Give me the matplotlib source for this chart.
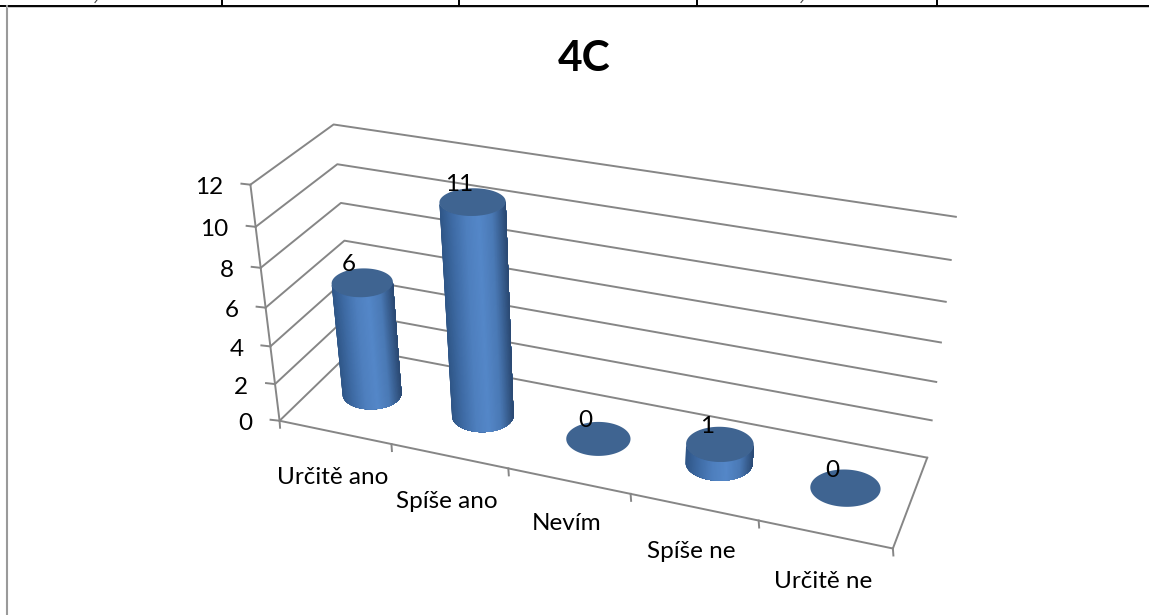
"""3D cylinder chart 4C, drawn on a flat axes through a fitted perspective projection."""
import numpy as np
import matplotlib
matplotlib.use('Agg')
import matplotlib.pyplot as plt
from matplotlib.colors import LinearSegmentedColormap

plt.rcParams['font.family'] = ['Lato', 'DejaVu Sans']

# ── Data ──────────────────────────────────────────────────────────────────────
TITLE = '4C'
CATEGORIES = ['Určitě ano', 'Spíše ano', 'Nevím', 'Spíše ne', 'Určitě ne']
VALUES = [6, 11, 0, 1, 0]
Y_TICKS = [0, 2, 4, 6, 8, 10, 12]

# ── Layout (image pixels) ─────────────────────────────────────────────────────
# box corners: (category pos, value, depth) -> pixel
BOX_3D = np.array([(0, 0, 0), (0, 12, 0), (5, 0, 0),
                   (0, 0, 1), (0, 12, 1), (5, 0, 1), (5, 12, 1)], dtype=float)
BOX_PX = np.array([(278, 420), (252, 185), (893, 549),
                   (356, 349), (332, 124), (927, 457), (956, 217)], dtype=float)
XLABEL_POS = [(333, 478), (447, 501), (567, 523), (691, 552), (823, 581)]
SEPARATORS = [222, 459, 697, 937]
CUT_OFF_MARKS = [97, 803]

GRID = '#868686'
TOP = '#3F6491'
SIDE = LinearSegmentedColormap.from_list(
    'side', ['#2F5687', '#3F6CA6', '#4E7FBE', '#5487C8', '#4A79B5', '#2B4A74'])
R_U, R_W = 0.272, 0.21
FONT = 17.5


def fit_projection(pts, px):
    rows, rhs = [], []
    for (u, y, w), (a, b) in zip(pts, px):
        rows.append([u, y, w, 1, 0, 0, 0, 0, -a * u, -a * y, -a * w])
        rows.append([0, 0, 0, 0, u, y, w, 1, -b * u, -b * y, -b * w])
        rhs += [a, b]
    sol = np.linalg.lstsq(np.array(rows), np.array(rhs), rcond=None)[0]
    return np.append(sol, 1).reshape(3, 4)


P = fit_projection(BOX_3D, BOX_PX)


def project(u, y, w):
    u, y, w = np.broadcast_arrays(u, y, w)
    hom = P @ np.stack([u, y, w, np.ones_like(u)], dtype=float)
    return hom[0] / hom[2], hom[1] / hom[2]


def line(ax, start, end, **kw):
    xs, ys = project(*np.array([start, end], dtype=float).T)
    ax.plot(xs, ys, color=GRID, lw=1.4, solid_capstyle='round', **kw)


def disc(pos, value, theta):
    """Screen-space ellipse of a cylinder cross-section at this height."""
    cx, cy = project(pos, value, 0.5)
    half_w = R_U * (project(pos + 0.5, value, 0.5)[0] - project(pos - 0.5, value, 0.5)[0])
    half_h = R_W * abs(project(pos, value, 1)[1] - project(pos, value, 0)[1])
    tilt = np.radians((pos - 2.5) * 0.9)
    dx, dy = half_w * np.cos(theta), half_h * np.sin(theta)
    return (cx + dx * np.cos(tilt) - dy * np.sin(tilt),
            cy + dx * np.sin(tilt) + dy * np.cos(tilt))


def draw_cylinder(ax, pos, value):
    if value > 0:
        # lower half of the ellipse, left to right, is the visible side;
        # each slice runs to the right edge so no seams show between them
        theta = np.linspace(np.pi, 0, 81)
        bx, by = disc(pos, 0, theta)
        tx, ty = disc(pos, value, theta)
        for i in range(len(theta) - 1):
            xs = np.r_[bx[i:], tx[i:][::-1]]
            ys = np.r_[by[i:], ty[i:][::-1]]
            shade = SIDE((0.5 * (bx[i] + bx[i + 1]) - bx[0]) / (bx[-1] - bx[0]))
            ax.fill(xs, ys, color=shade, lw=0, zorder=3)
    ex, ey = disc(pos, value, np.linspace(0, 2 * np.pi, 121))
    ax.fill(ex, ey, color=TOP, lw=0, zorder=4)
    return project(pos, value, 0.5)


fig = plt.figure(figsize=(11.49, 6.15), dpi=100)
ax = fig.add_axes([0, 0, 1, 1])
ax.set_xlim(0, 1149)
ax.set_ylim(615, 0)
ax.axis('off')

# page furniture behind the chart
ax.plot([0, 1149], [5.5, 5.5], color='black', lw=1.4)
ax.plot([7, 7], [6, 615], color='#9A9A9A', lw=1.5)
ax.plot([7, 1149], [7.2, 7.2], color='#C8C8C8', lw=0.7)
for sx in SEPARATORS:
    ax.plot([sx, sx], [0, 5], color='black', lw=1.4)
for mx in CUT_OFF_MARKS:
    ax.plot([mx, mx - 2], [0, 2.5], color='#444444', lw=0.8)

# walls and floor
for tick in Y_TICKS:
    xs, ys = project([0, 0, 5], tick, [0, 1, 1])
    ax.plot(xs, ys, color=GRID, lw=1.4, zorder=1)
    x0, y0 = project(0, tick, 0)
    ax.plot([x0 - 9, x0], [y0 - 1, y0], color=GRID, lw=1.4, zorder=1)
    ax.text(x0 - 27, y0 + 3, str(tick), ha='right', va='center', fontsize=FONT, color='black')
line(ax, (0, 0, 0), (0, 12, 0), zorder=1)
line(ax, (0, 0, 0), (5, 0, 0), zorder=1)
line(ax, (5, 0, 0), (5, 0, 1), zorder=1)
for pos in range(len(CATEGORIES) + 1):
    x0, y0 = project(pos, 0, 0)
    ax.plot([x0, x0 + 0.5], [y0, y0 + 7], color=GRID, lw=1.4, zorder=1)

# cylinders and labels
for i, val in enumerate(VALUES):
    cx, cy = draw_cylinder(ax, i + 0.5, val)
    ax.text(cx - 13, cy - 18, str(val), ha='center', va='center', fontsize=FONT,
            color='black', zorder=5)

for name, (x, y) in zip(CATEGORIES, XLABEL_POS):
    ax.text(x, y, name, ha='center', va='center', fontsize=FONT, color='black')

ax.text(584, 59, TITLE, ha='center', va='center', fontsize=30.5, fontweight='bold', color='black')

fig.savefig('out.png', dpi=100)
